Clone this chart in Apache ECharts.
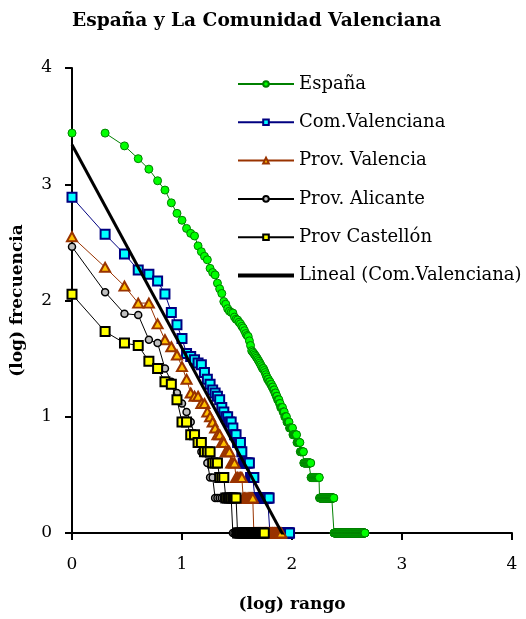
<!DOCTYPE html>
<html>
<head>
<meta charset="utf-8">
<script src="https://cdn.jsdelivr.net/npm/echarts@6/dist/echarts.min.js"></script>
<style>
  html, body { margin: 0; padding: 0; background: #ffffff; }
  #chart { width: 526px; height: 619px; }
</style>
</head>
<body>
<div id="chart"></div>
<script>
// Rank-frequency lists (highest frequency first). The head lists the frequency
// of each top rank; the tail gives [frequency, number of ranks sharing it].
const espanaHead = [2754, 2754, 2138, 1660, 1349, 1072, 891, 692, 562, 490,
  417, 378, 359, 295, 263, 240, 224, 189, 174, 166,
  141, 126, 115, 98, 93, 85, 81, 79, 78, 72,
  69, 68, 65, 63, 60, 58, 55, 52, 50, 49,
  45, 41, 37, 36, 35, 34, 33, 32, 31, 30,
  29, 28, 27, 26, 26, 25, 24, 23, 22, 21,
  21, 20, 20, 19, 19, 18, 18, 17, 17, 16,
  16, 15, 15, 14, 14, 14, 13, 13, 12, 12,
  12, 12, 11, 11, 11];
const espanaTail = [[10, 4], [9, 5], [8, 7], [7, 9], [6, 8], [5, 9], [4, 21], [3, 29], [2, 63], [1, 221]];

const comValHead = [773, 371, 251, 183, 168, 147, 114, 79, 62, 47,
  35, 33, 31, 29, 28, 24, 21, 19, 17, 16,
  15, 14, 12, 11, 10, 10, 9, 9, 8, 7,
  7, 6, 6, 6, 5];
const comValTail = [[4, 6], [3, 4], [2, 17], [1, 33]];

const valenciaHead = [354, 193, 133, 95, 95, 63, 46, 40, 34, 27,
  21, 16, 15, 15, 13, 13, 11, 10, 9, 8,
  7, 7, 6, 6, 5, 5, 5];
const valenciaTail = [[4, 3], [3, 5], [2, 9], [1, 36]];

const alicanteHead = [290, 118, 77, 75, 46, 43, 26, 20, 16, 13,
  11, 9, 7, 6, 5, 5, 4, 3, 3];
const alicanteTail = [[2, 9], [1, 20]];

const castellonHead = [113, 54, 43, 41, 30, 26, 20, 19, 14, 9,
  9, 7, 7, 6, 6, 5, 5, 5, 4, 4,
  4, 3, 3, 3];
const castellonTail = [[2, 7], [1, 25]];

// Linear trend of the Com.Valenciana points (log frequency vs log rank)
const trendIntercept = 3.34;
const trendSlope = -1.75;

const seriesNames = ['España', 'Com.Valenciana', 'Prov. Valencia', 'Prov. Alicante', 'Prov Castellón', 'Lineal (Com.Valenciana)'];
const xTicks = [0, 1, 2, 3, 4];
const yTicks = [0, 1, 2, 3, 4];

function frequencies(head, tail) {
  const list = head.slice();
  tail.forEach(function (run) {
    for (let i = 0; i < run[1]; i++) list.push(run[0]);
  });
  return list;
}
function logPoints(freqs) {
  return freqs.map(function (f, i) { return [Math.log10(i + 1), Math.log10(f)]; });
}

const espanaPts = logPoints(frequencies(espanaHead, espanaTail));
// the first two ranks of España are not joined by a segment
espanaPts.splice(1, 0, [espanaPts[0][0], '-']);
const comValFreqs = frequencies(comValHead, comValTail);
const comValPts = logPoints(comValFreqs);
const valenciaPts = logPoints(frequencies(valenciaHead, valenciaTail));
const alicantePts = logPoints(frequencies(alicanteHead, alicanteTail));
const castellonPts = logPoints(frequencies(castellonHead, castellonTail));
const trendEnd = Math.log10(comValFreqs.length);
const trendPts = [[0, trendIntercept], [trendEnd, trendIntercept + trendSlope * trendEnd]];

const serif = 'DejaVu Serif';

function markSeries(name, data, lineColor, symbol, size, fill, border, bw, z) {
  return {
    name: name, type: 'line', data: data, z: z,
    symbol: symbol, symbolSize: size, showAllSymbol: true,
    lineStyle: { color: lineColor, width: 1 },
    itemStyle: { color: fill, borderColor: border, borderWidth: bw },
    emphasis: { disabled: true }, silent: true, clip: true
  };
}

// the trend entry in the legend is a plain thick bar
const legendItems = seriesNames.map(function (n, i) {
  if (i === 5) {
    return { name: n, icon: 'path://M0,0L56,0L56,4L0,4Z', itemStyle: { color: '#000000', borderWidth: 0 } };
  }
  return { name: n };
});

const chart = echarts.init(document.getElementById('chart'), null, { renderer: 'canvas' });
chart.setOption({
  animation: false,
  backgroundColor: '#ffffff',
  title: {
    text: 'España y La Comunidad Valenciana',
    left: 67, top: 7,
    textStyle: { fontFamily: serif, fontWeight: 'bold', fontSize: 18.6, color: '#000' }
  },
  legend: {
    data: legendItems,
    orient: 'vertical', left: 237, top: 74, padding: 0,
    itemWidth: 56, itemHeight: 7, itemGap: 18.3, symbolKeepAspect: true,
    textStyle: { fontFamily: serif, fontSize: 18, color: '#000', lineHeight: 20 }
  },
  grid: { left: 72, right: 14, top: 68, bottom: 86, containLabel: false },
  xAxis: {
    type: 'value', min: xTicks[0], max: xTicks[xTicks.length - 1], interval: 1,
    name: '(log) rango', nameLocation: 'middle', nameGap: 63,
    nameTextStyle: { fontFamily: serif, fontWeight: 'bold', fontSize: 17, color: '#000' },
    axisLine: { show: true, onZero: false, lineStyle: { color: '#000', width: 2 } },
    axisTick: { show: true, length: 7, lineStyle: { color: '#000', width: 2 } },
    axisLabel: { fontFamily: serif, fontSize: 17, color: '#000', margin: 23 },
    splitLine: { show: false }
  },
  yAxis: {
    type: 'value', min: yTicks[0], max: yTicks[yTicks.length - 1], interval: 1,
    name: '(log) frecuencia', nameLocation: 'middle', nameRotate: 90, nameGap: 46,
    nameTextStyle: { fontFamily: serif, fontWeight: 'bold', fontSize: 17, color: '#000' },
    axisLine: { show: true, onZero: false, lineStyle: { color: '#000', width: 2 } },
    axisTick: { show: true, length: 7, lineStyle: { color: '#000', width: 2 } },
    axisLabel: { fontFamily: serif, fontSize: 17, color: '#000', margin: 20 },
    splitLine: { show: false }
  },
  series: [
    markSeries(seriesNames[0], espanaPts, '#008000', 'circle', 8, '#00ff00', '#008000', 1, 2),
    markSeries(seriesNames[1], comValPts, '#000080', 'rect', 9, '#00ffff', '#000080', 2, 3),
    markSeries(seriesNames[2], valenciaPts, '#993300', 'triangle', [10, 9], '#ffc000', '#993300', 2, 4),
    markSeries(seriesNames[3], alicantePts, '#000000', 'circle', 7, '#c0c0c0', '#000000', 1.5, 5),
    markSeries(seriesNames[4], castellonPts, '#000000', 'rect', 9, '#ffff00', '#000000', 2, 6),
    {
      name: seriesNames[5], type: 'line', data: trendPts, z: 7,
      symbol: 'none', lineStyle: { color: '#000000', width: 3 },
      itemStyle: { color: '#000000' },
      emphasis: { disabled: true }, silent: true, clip: true
    }
  ]
});
</script>
</body>
</html>
